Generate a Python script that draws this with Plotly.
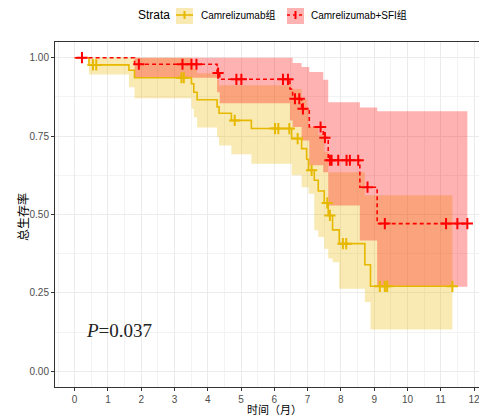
import plotly.graph_objects as go
import bisect

# ---------------- data ----------------
yellow_name = "Camrelizumab组"
yellow_time = [0, 0.43, 1.63, 1.80, 3.51, 3.58, 3.68, 4.28, 4.34, 4.71, 5.31, 6.52, 6.82, 6.97, 7.03, 7.20, 7.32, 7.50, 7.62, 7.75, 7.95, 8.72, 8.89]
yellow_surv = [1.0, 0.977, 0.960, 0.936, 0.917, 0.890, 0.866, 0.843, 0.823, 0.800, 0.774, 0.742, 0.710, 0.676, 0.641, 0.609, 0.575, 0.537, 0.497, 0.451, 0.407, 0.340, 0.271]
yellow_upper = [1.0, 1.0, 1.0, 1.0, 0.98, 0.965, 0.95, 0.93, 0.912, 0.912, 0.912, 0.90, 0.869, 0.84, 0.779, 0.779, 0.755, 0.70, 0.635, 0.635, 0.635, 0.561, 0.561]
yellow_lower = [1.0, 0.946, 0.906, 0.871, 0.837, 0.81, 0.777, 0.747, 0.720, 0.692, 0.662, 0.625, 0.587, 0.587, 0.566, 0.45, 0.428, 0.391, 0.36, 0.348, 0.263, 0.221, 0.133]
yellow_end = 11.35
yellow_censor = [0.55, 0.65, 3.21, 3.28, 4.81, 6.02, 6.12, 6.45, 6.70, 7.12, 7.59, 7.67, 8.06, 8.16, 9.17, 9.32, 9.39, 11.35]

red_name = "Camrelizumab+SFI组"
red_time = [0, 1.80, 4.28, 4.36, 6.47, 6.55, 6.82, 7.05, 7.47, 7.62, 8.57, 9.09]
red_surv = [1.0, 0.979, 0.951, 0.931, 0.90, 0.869, 0.837, 0.779, 0.745, 0.673, 0.587, 0.471]
red_upper = [1.0, 1.0, 1.0, 1.0, 1.0, 0.983, 0.970, 0.954, 0.930, 0.858, 0.841, 0.829]
red_lower = [1.0, 0.936, 0.89, 0.855, 0.80, 0.779, 0.736, 0.657, 0.635, 0.529, 0.417, 0.27]
red_end = 11.80
red_censor = [0.22, 1.93, 3.24, 3.51, 3.66, 4.31, 4.86, 5.01, 6.26, 6.41, 6.62, 6.75, 6.86, 7.39, 7.52, 7.67, 7.72, 7.92, 8.17, 8.27, 8.52, 8.80, 9.32, 11.16, 11.50, 11.80]

x_ticks = list(range(0, 13))
y_ticks = [0.0, 0.25, 0.5, 0.75, 1.0]
p_text = "<i>P</i>=0.037"

YELLOW = "#E7B800"
RED = "#FF0000"
YELLOW_FILL = "rgba(231,184,0,0.3)"
RED_FILL = "rgba(255,0,0,0.3)"


def step_value(times, vals, t):
    i = bisect.bisect_right(times, t) - 1
    return vals[max(i, 0)]


fig = go.Figure()


def add_band(times, upper, lower, end, fill):
    bx = times[1:] + [end]
    fig.add_trace(go.Scatter(x=bx, y=upper[1:] + [upper[-1]], mode="lines", line=dict(width=0, shape="hv"),
                             showlegend=False, hoverinfo="skip"))
    fig.add_trace(go.Scatter(x=bx, y=lower[1:] + [lower[-1]], mode="lines", line=dict(width=0, shape="hv"),
                             fill="tonexty", fillcolor=fill, showlegend=False, hoverinfo="skip"))


def add_curve(times, surv, end, censor, color, dash):
    fig.add_trace(go.Scatter(x=times + [end], y=surv + [surv[-1]], mode="lines",
                             line=dict(color=color, width=1.6, shape="hv", dash=dash), showlegend=False))
    fig.add_trace(go.Scatter(x=censor, y=[step_value(times, surv, t) for t in censor], mode="markers",
                             marker=dict(symbol="cross-thin", size=8, line=dict(width=2, color=color)),
                             showlegend=False))


add_band(yellow_time, yellow_upper, yellow_lower, yellow_end, YELLOW_FILL)
add_band(red_time, red_upper, red_lower, red_end, RED_FILL)
add_curve(yellow_time, yellow_surv, yellow_end, yellow_censor, YELLOW, "solid")
add_curve(red_time, red_surv, red_end, red_censor, RED, "4px,3px")

# ---------------- layout ----------------
# the page body has an 8px margin, so the figure sits at (8, 8) in the window
OFF = 8
W, H = 487 - OFF, 416 - OFF
L, R, T, B = 55 - OFF, 0, 42 - OFF, 29
PW, PH = W - L - R, H - T - B


def px(x):
    return (x - OFF - L) / PW


def py(y):
    return (H - B - (y - OFF)) / PH


tick_font = dict(family="Liberation Sans, Arial, sans-serif", size=10, color="#4D4D4D")
fig.update_xaxes(range=[-0.59, 12.39], tickvals=x_ticks, ticktext=[str(v) for v in x_ticks],
                 showgrid=True, gridcolor="#EBEBEB", gridwidth=1,
                 minor=dict(dtick=0.5, showgrid=True, gridcolor="#F3F3F3", gridwidth=1),
                 showline=True, linecolor="#333333", linewidth=1, mirror=True,
                 ticks="outside", ticklen=3, tickcolor="#333333", tickfont=tick_font, zeroline=False)
fig.update_yaxes(range=[-0.05, 1.05], tickvals=y_ticks, ticktext=["%.2f" % v for v in y_ticks],
                 showgrid=True, gridcolor="#EBEBEB", gridwidth=1,
                 minor=dict(dtick=0.125, showgrid=True, gridcolor="#F3F3F3", gridwidth=1),
                 showline=True, linecolor="#333333", linewidth=1,
                 ticks="outside", ticklen=3, tickcolor="#333333", tickfont=tick_font, zeroline=False)

cjk = "Noto Sans CJK SC, sans-serif"
annotations = [
    dict(x=px(22), y=py(217), xref="paper", yref="paper", text="总生存率", textangle=-90, showarrow=False,
         xanchor="center", yanchor="middle", font=dict(family=cjk, size=12, color="black")),
    dict(x=px(274), y=py(409), xref="paper", yref="paper", text="时间（月）", showarrow=False,
         xanchor="center", yanchor="middle", borderpad=0, font=dict(family=cjk, size=11, color="black")),
    dict(x=1.34, y=0.13, xref="x", yref="y", text=p_text, showarrow=False,
         xanchor="center", yanchor="middle",
         font=dict(family="Liberation Serif, Times New Roman, serif", size=19, color="#222222")),
    dict(x=px(153.5), y=py(15), xref="paper", yref="paper", text="Strata", showarrow=False,
         xanchor="center", yanchor="middle",
         font=dict(family="Liberation Sans, Arial, sans-serif", size=12, color="black")),
    dict(x=px(199), y=py(15), xref="paper", yref="paper", text=yellow_name, showarrow=False,
         xanchor="left", yanchor="middle",
         font=dict(family="Liberation Sans, Arial, " + cjk, size=10, color="black")),
    dict(x=px(309), y=py(15), xref="paper", yref="paper", text=red_name, showarrow=False,
         xanchor="left", yanchor="middle",
         font=dict(family="Liberation Sans, Arial, " + cjk, size=10, color="black")),
]

shapes = []
for (x0, x1, fill, col, dash) in [(176, 193, YELLOW_FILL, YELLOW, "solid"), (287, 304, RED_FILL, RED, "dot")]:
    shapes.append(dict(type="rect", xref="paper", yref="paper", x0=px(x0), x1=px(x1), y0=py(24), y1=py(6),
                       fillcolor=fill, line=dict(width=0), layer="above"))
    shapes.append(dict(type="line", xref="paper", yref="paper", x0=px(x0), x1=px(x1), y0=py(15), y1=py(15),
                       line=dict(color=col, width=1.6, dash=dash)))
    cx = (x0 + x1) / 2
    shapes.append(dict(type="line", xref="paper", yref="paper", x0=px(cx), x1=px(cx), y0=py(11), y1=py(19),
                       line=dict(color=col, width=2)))

fig.update_layout(width=W, height=H, margin=dict(l=L, r=R, t=T, b=B), plot_bgcolor="white", paper_bgcolor="white",
                  showlegend=False, annotations=annotations, shapes=shapes)

fig.write_html("out.html")
